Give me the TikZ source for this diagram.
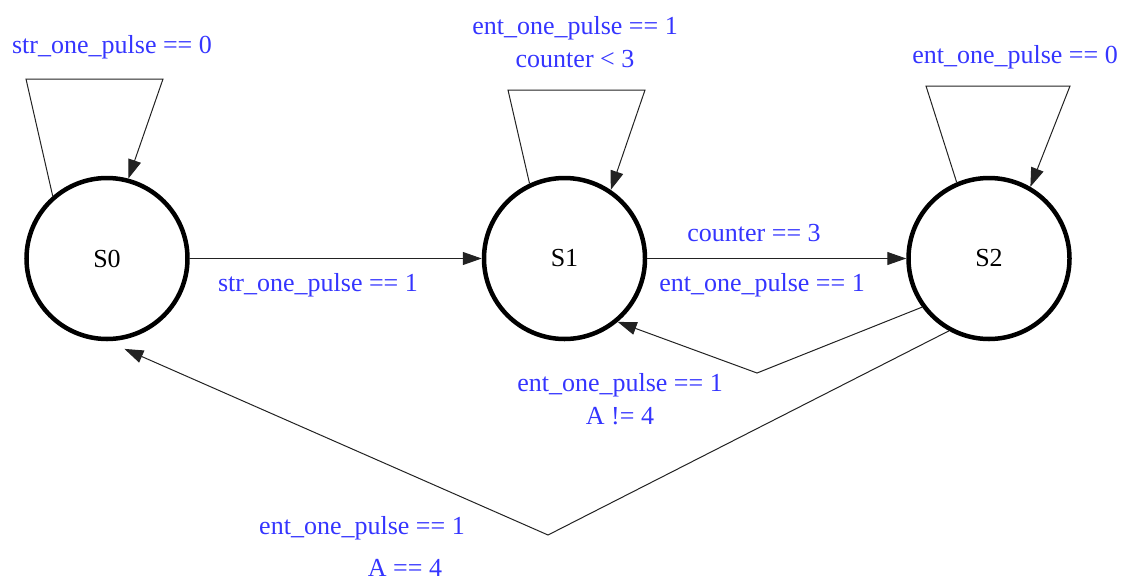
\documentclass[tikz,border=0pt]{standalone}
\usepackage{fontspec}
\setmainfont{Liberation Serif}
\usepackage{xcolor}
\usetikzlibrary{arrows.meta}
\definecolor{blk}{HTML}{000000}
\definecolor{edg}{HTML}{222222}
\definecolor{cond}{HTML}{3535FF}
\tikzset{
  >={Triangle[length=19pt,width=13pt]},
  state/.style={circle, draw=blk, line width=4.5pt, minimum size=161pt, inner sep=0pt,
                font=\fontsize{26}{30}\selectfont},
  cnd/.style={text=cond, align=center, inner sep=0pt, font=\fontsize{26}{33}\selectfont},
  l/.style={->, line width=1pt, draw=edg},
}

\begin{document}
\begin{tikzpicture}[x=1pt, y=-1pt]
  \useasboundingbox (0,0) rectangle (1126,581);
  \node[state] (s0) at (107,258.5) {S0};
  \node[state] (s1) at (564.5,258.5) {S1};
  \node[state] (s2) at (989,258.5) {S2};
  % loop corners and bends
  \coordinate (l0a) at (26,79);
  \coordinate (l0b) at (163,79);
  \coordinate (l1a) at (508,90);
  \coordinate (l1b) at (645,90);
  \coordinate (l2a) at (926,86);
  \coordinate (l2b) at (1070,86);
  \coordinate (b21) at (757,373);
  \coordinate (b20) at (548,535);
  % conditions
  \node[cnd] (c00) at (112,47) {str\_one\_pulse == 0};
  \node[cnd] (c11) at (575,42) {ent\_one\_pulse == 1\\counter < 3\hspace{18pt}};
  \node[cnd] (c22) at (1015,57) {ent\_one\_pulse == 0};
  \node[cnd] (c01) at (318,285) {str\_one\_pulse == 1};
  \node[cnd] (c12a) at (754,233) {counter == 3};
  \node[cnd] (c12b) at (762,285) {ent\_one\_pulse == 1};
  \node[cnd] (c21) at (620,399) {ent\_one\_pulse == 1\\A != 4\hspace{18pt}};
  \node[cnd] (c20a) at (362,528) {ent\_one\_pulse == 1};
  \node[cnd] (c20b) at (405,568) {A == 4};
  % transitions
  \draw[l] (s0.131) -- (l0a) -- (l0b) -- (s0.75.5);
  \draw[l] (s1.115.5) -- (l1a) -- (l1b) -- (s1.56);
  \draw[l] (s2.113.4) -- (l2a) -- (l2b) -- (s2.60.8);
  \draw[l] (s0) -- (s1);
  \draw[l] (s1) -- (s2);
  \draw[l] (s2.216) -- (b21) -- (s1.310);
  \draw[l, shorten >=19pt] (s2.241.5) -- (b20) -- (s0.south);
\end{tikzpicture}
\end{document}
